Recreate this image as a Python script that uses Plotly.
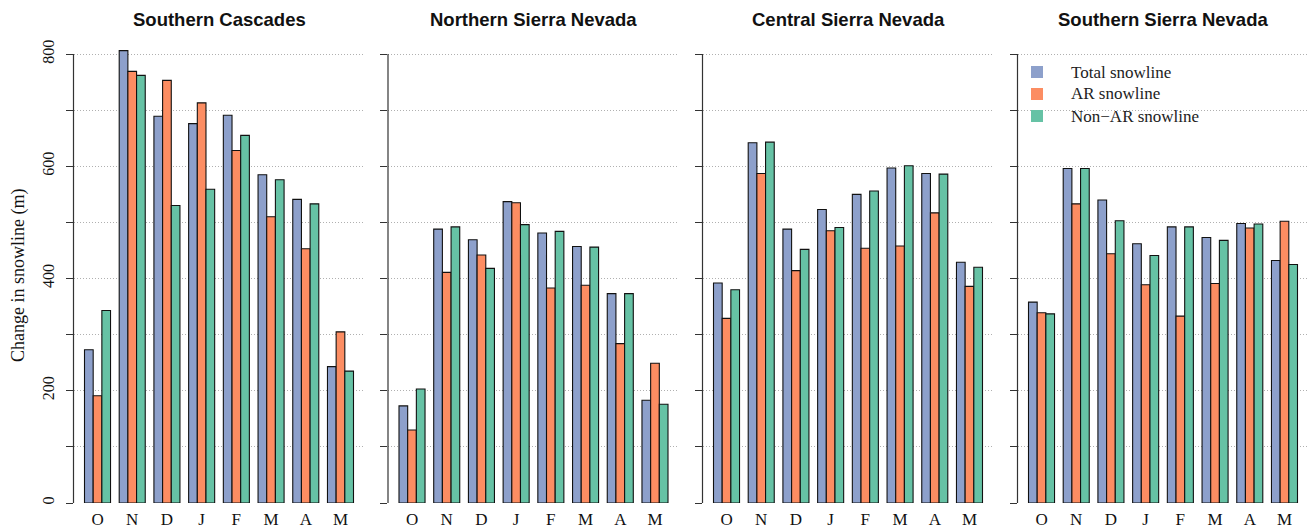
import plotly.graph_objects as go

# Months of the snow season (Oct - May)
months = ["O", "N", "D", "J", "F", "M", "A", "M"]
regions = ["Southern Cascades", "Northern Sierra Nevada",
           "Central Sierra Nevada", "Southern Sierra Nevada"]

# Change in snowline (m) per region and month
total_sc = [273, 806, 689, 676, 691, 585, 541, 243]
ar_sc = [191, 769, 753, 713, 628, 510, 453, 305]
nonar_sc = [343, 762, 530, 559, 655, 576, 533, 235]

total_ns = [173, 488, 469, 537, 481, 457, 373, 183]
ar_ns = [130, 411, 442, 535, 383, 388, 284, 249]
nonar_ns = [203, 492, 418, 496, 484, 456, 373, 176]

total_cs = [392, 642, 488, 523, 550, 597, 587, 429]
ar_cs = [329, 587, 414, 485, 454, 458, 517, 386]
nonar_cs = [380, 643, 452, 491, 556, 601, 586, 420]

total_ss = [358, 596, 540, 462, 492, 473, 498, 432]
ar_ss = [339, 533, 444, 389, 333, 391, 490, 502]
nonar_ss = [337, 596, 503, 441, 492, 468, 497, 425]

series_names = ["Total snowline", "AR snowline", "Non\u2212AR snowline"]
series_colors = ["#8DA0CB", "#FC8D62", "#66C2A5"]

panels = [
    (total_sc, ar_sc, nonar_sc),
    (total_ns, ar_ns, nonar_ns),
    (total_cs, ar_cs, nonar_cs),
    (total_ss, ar_ss, nonar_ss),
]

y_ticks = list(range(0, 801, 100))
y_ticktext = [str(v) if v % 200 == 0 else "" for v in y_ticks]

W, H = 1309, 528
panel_left = [73.5, 388.0, 702.5, 1017.5]
panel_width = 291.0
y_bottom_px, y_top_px = 503.0, 45.6
y_max = 815

serif = "Liberation Serif, Times New Roman, serif"
sans = "Liberation Sans, Arial, Helvetica, sans-serif"

fig = go.Figure()
x_pos = list(range(len(months)))

for p, values in enumerate(panels):
    suffix = "" if p == 0 else str(p + 1)
    for s, vals in enumerate(values):
        fig.add_trace(go.Bar(
            x=x_pos, y=vals, name=series_names[s],
            marker=dict(color=series_colors[s], line=dict(color="#111111", width=1.1)),
            xaxis="x" + suffix, yaxis="y" + suffix,
            showlegend=False, hoverinfo="y",
        ))

layout = dict(
    width=W, height=H,
    margin=dict(l=0, r=0, t=0, b=0, autoexpand=False),
    paper_bgcolor="white", plot_bgcolor="white",
    barmode="group", bargap=0.25, bargroupgap=0,
    showlegend=False,
)

y_dom = [(H - y_bottom_px) / H, (H - y_top_px) / H]
annotations = []
shapes = []
for p in range(4):
    suffix = "" if p == 0 else str(p + 1)
    x0 = panel_left[p] / W
    x1 = (panel_left[p] + panel_width) / W
    layout["xaxis" + suffix] = dict(
        domain=[x0, x1], anchor="y" + suffix, automargin=False,
        range=[-0.692, 7.692],
        tickvals=x_pos, ticktext=months, ticks="",
        ticklabelstandoff=4,
        tickfont=dict(family=serif, size=17, color="#111"),
        showgrid=False, zeroline=False, showline=False, fixedrange=True,
    )
    layout["yaxis" + suffix] = dict(
        domain=y_dom, anchor="x" + suffix, automargin=False,
        range=[0, y_max],
        tickvals=y_ticks, ticktext=y_ticktext,
        showticklabels=(p == 0), tickangle=-90,
        ticklabelstandoff=5,
        tickfont=dict(family=serif, size=16, color="#111"),
        ticks="outside", ticklen=7, tickwidth=1, tickcolor="#333",
        showgrid=True, gridcolor="#b0b0b0", gridwidth=1, griddash="1px,2px",
        zeroline=False, showline=False, fixedrange=True,
    )
    # Axis line from 0 to 800
    shapes.append(dict(
        type="line", xref="x" + suffix + " domain", yref="y" + suffix,
        x0=0, x1=0, y0=0, y1=800, line=dict(color="#333", width=1.2),
    ))
    annotations.append(dict(
        text="<b>" + regions[p] + "</b>", xref="paper", yref="paper",
        x=(panel_left[p] + panel_width / 2) / W, y=(H - 20) / H,
        xanchor="center", yanchor="middle", showarrow=False,
        font=dict(family=sans, size=18.5, color="#111"),
    ))

# Legend in the last panel: coloured squares with labels
legend_rows_px = [72, 94, 116]
for s in range(3):
    yc = legend_rows_px[s]
    shapes.append(dict(
        type="rect", xref="paper", yref="paper",
        x0=1031 / W, x1=1043 / W, y0=(H - yc - 6) / H, y1=(H - yc + 6) / H,
        fillcolor=series_colors[s], line=dict(width=0),
    ))
    annotations.append(dict(
        text=series_names[s], xref="paper", yref="paper",
        x=1069 / W, y=(H - yc) / H, xanchor="left", yanchor="middle",
        showarrow=False, font=dict(family=serif, size=17, color="#222"),
    ))

annotations.append(dict(
    text="Change in snowline (m)", xref="paper", yref="paper",
    x=18 / W, y=(H - 276) / H, xanchor="center", yanchor="middle",
    textangle=-90, showarrow=False,
    font=dict(family=serif, size=18, color="#111"),
))

layout["annotations"] = annotations
layout["shapes"] = shapes
fig.update_layout(**layout)

fig.write_html("out.html")
